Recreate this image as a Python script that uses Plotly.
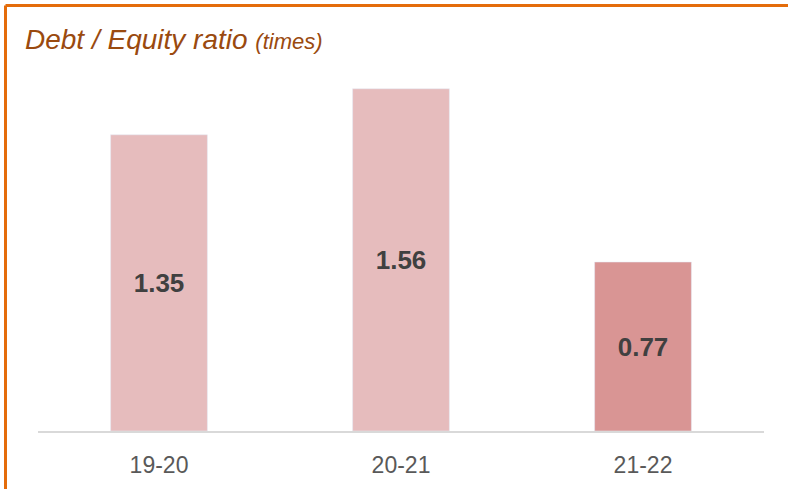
import plotly.graph_objects as go

# data
years = ['19-20', '20-21', '21-22']
ratio = [1.35, 1.56, 0.77]
bar_colors = ['#E6BCBD', '#E6BCBD', '#D99594']

W, H = 788, 489
m_l, m_r, m_t, m_b = 38, 24, 58, 58
plot_w = W - m_l - m_r
plot_h = H - m_t - m_b

fig = go.Figure(go.Bar(
    x=years,
    y=ratio,
    marker_color=bar_colors,
    text=[f'{v:.2f}' for v in ratio],
    textposition='inside',
    insidetextanchor='middle',
    textfont=dict(family='Liberation Sans, Arial', size=26, color='#404040', weight='bold'),
    textangle=0,
    hoverinfo='skip',
))

# orange frame on top and left (paper coords relative to plot area)
edge = 5.5
px0 = (edge - m_l) / plot_w
px1 = (W - m_l) / plot_w
py_top = (H - m_b - edge) / plot_h
py_bot = (H - m_b - H) / plot_h
frame = dict(color='#E46C0A', width=3)

fig.update_layout(
    width=W, height=H,
    margin=dict(l=m_l, r=m_r, t=m_t, b=m_b),
    paper_bgcolor='white',
    plot_bgcolor='white',
    bargap=0.6,
    showlegend=False,
    title=dict(
        text="<i>Debt / Equity ratio <span style='font-size:22px'>(times)</span></i>",
        x=25 / W, xanchor='left', xref='container',
        y=1 - 39 / H, yanchor='middle', yref='container',
        font=dict(family='Liberation Sans, Arial', size=28, color='#9A4A0F'),
    ),
    xaxis=dict(
        showline=True, linecolor='#D9D9D9', linewidth=2,
        ticks='outside', ticklen=12, tickcolor='rgba(0,0,0,0)',
        tickfont=dict(family='Liberation Sans, Arial', size=23, color='#595959'),
        showgrid=False, zeroline=False,
    ),
    yaxis=dict(range=[0, 1.7], visible=False, showgrid=False, zeroline=False),
    shapes=[
        dict(type='line', xref='paper', yref='paper', x0=px0, x1=px1, y0=py_top, y1=py_top, line=frame),
        dict(type='line', xref='paper', yref='paper', x0=px0, x1=px0, y0=py_top, y1=py_bot, line=frame),
    ],
)

fig.write_html('out.html', config={'displayModeBar': False},
               post_script="document.body.style.margin='0';")
